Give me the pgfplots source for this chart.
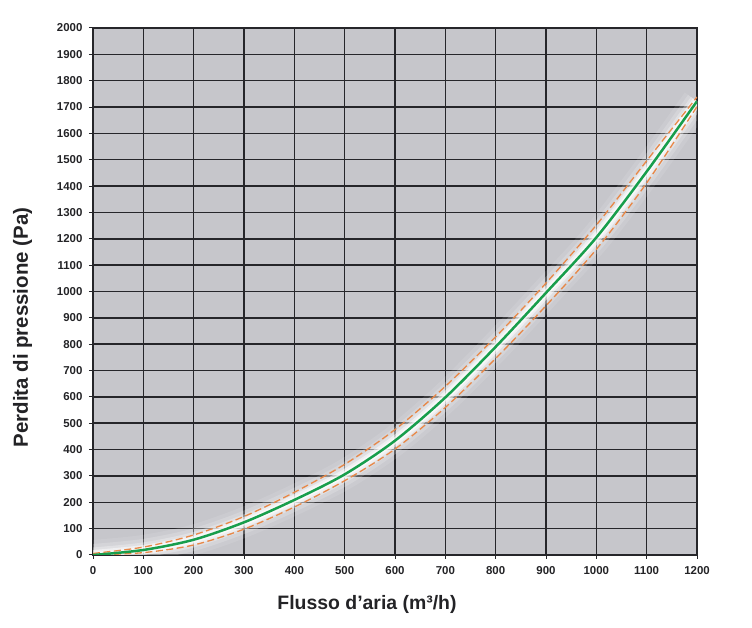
\documentclass[border=0pt]{standalone}
\usepackage{pgfplots}
\pgfplotsset{compat=1.18}
\usepackage{fontspec}
\setmainfont{Liberation Sans}
\definecolor{bgc}{RGB}{198,198,203}
\definecolor{gridc}{RGB}{38,38,42}
\definecolor{greenc}{RGB}{24,158,76}
\definecolor{orangec}{RGB}{232,136,72}
\definecolor{txt}{RGB}{35,35,38}
\pgfplotstableread{
x y
0 0
100 19
200 58
300 124
400 209
500 306
600 434
700 598
800 790
900 995
1000 1205
1100 1455
1200 1722
}\maintab
\pgfplotstableread{
x y
0 6
100 30
200 76
300 146
400 238
500 344
600 476
700 640
800 828
900 1032
1000 1252
1100 1496
1200 1738
}\uppertab
\pgfplotstableread{
x y
0 0
100 9
200 38
300 98
400 182
500 282
600 402
700 560
800 746
900 946
1000 1160
1100 1412
1200 1702
}\lowertab
\begin{document}
\begin{tikzpicture}
\useasboundingbox (0,0) rectangle (752bp,628bp);
\begin{axis}[
  at={(93bp,73bp)}, anchor=south west,
  scale only axis, width=604bp, height=527bp,
  xmin=0, xmax=1200, ymin=0, ymax=2000,
  xtick={0,100,...,1200}, ytick={0,100,...,2000},
  axis background/.style={fill=bgc},
  grid=major,
  major grid style={draw=gridc, line width=1.5bp},
  axis line style={draw=gridc, line width=1.8bp},
  tick style={draw=gridc, line width=1bp},
  tick align=outside, major tick length=4bp,
  xtick pos=bottom, ytick pos=left,
  /pgf/number format/assume math mode=true,
  /pgf/number format/1000 sep={},
  ticklabel style={font=\fontsize{11.5}{13}\selectfont\bfseries, text=txt},
  yticklabel style={xshift=-3bp},
  xticklabel style={yshift=-4bp},
  xlabel={Flusso d'aria (m³/h)},
  ylabel={Perdita di pressione (Pa)},
  xlabel style={font=\fontsize{19.5}{22}\selectfont\bfseries, text=txt, yshift=-14bp, xshift=-28bp},
  ylabel style={font=\fontsize{20.5}{22}\selectfont\bfseries, text=txt, yshift=18bp, xshift=-36bp},
]
\addplot[white, opacity=0.10, line width=30bp, line join=round, smooth] table {\maintab};
\addplot[white, opacity=0.18, line width=22bp, line join=round, smooth] table {\maintab};
\addplot[white, opacity=0.3, line width=15bp, line join=round, smooth] table {\maintab};
\addplot[white, opacity=0.5, line width=10bp, line join=round, smooth] table {\maintab};
\addplot[white, opacity=0.6, line width=6bp, line join=round, smooth] table {\maintab};
\addplot[orangec, line width=1.3bp, dash pattern=on 7bp off 3.5bp, smooth] table {\uppertab};
\addplot[orangec, line width=1.3bp, dash pattern=on 7bp off 3.5bp, smooth] table {\lowertab};
\addplot[greenc, line width=2.5bp, smooth] table {\maintab};
\end{axis}
\end{tikzpicture}
\end{document}
